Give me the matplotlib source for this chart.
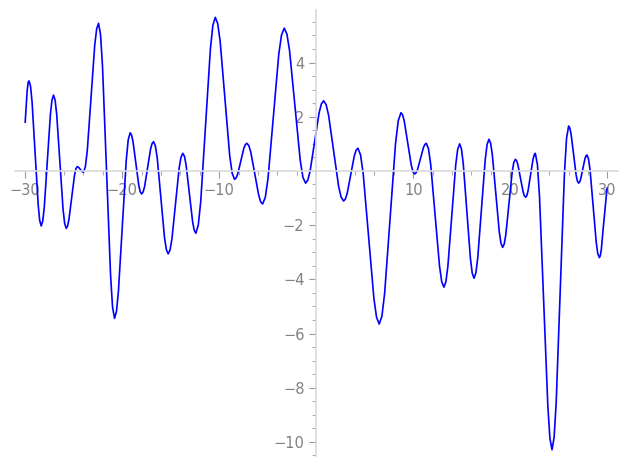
import numpy as np
import matplotlib
matplotlib.use("Agg")
import matplotlib.pyplot as plt
from matplotlib.ticker import MultipleLocator

# points, one row per rise/fall
xs = [-30.0, -29.8, -29.7, -29.65,
      -29.6, -29.444, -29.29, -28.975, -28.66, -28.506,
      -28.35, -28.191, -28.03, -27.715, -27.40, -27.239,
      -27.08, -26.916, -26.75, -26.425, -26.10, -25.934,
      -25.77, -25.629, -25.49, -25.205, -24.92, -24.781,
      -24.64, -24.48, -24.315, -24.15,
      -23.99, -23.796, -23.60, -23.215, -22.83, -22.634,
      -22.44, -22.234, -22.03, -21.615, -21.20, -20.996,
      -20.79, -20.589, -20.39, -19.985, -19.58, -19.381,
      -19.18, -19.0325, -18.885, -18.59, -18.295, -18.1475,
      -18.0, -17.846, -17.69, -17.385, -17.08, -16.924,
      -16.77, -16.581, -16.39, -16.015, -15.64, -15.449,
      -15.26, -15.071, -14.88, -14.505, -14.13, -13.939,
      -13.75, -13.5825, -13.415, -13.08, -12.745, -12.5775,
      -12.41, -12.16, -11.91, -11.41, -10.91, -10.66,
      -10.41, -10.161, -9.91, -9.415, -8.92, -8.669,
      -8.42, -8.261, -8.10, -7.785, -7.47, -7.309,
      -7.15, -6.9475, -6.745, -6.34, -5.935, -5.7325,
      -5.53, -5.251, -4.97, -4.415, -3.86, -3.579,
      -3.30, -3.025, -2.75, -2.20, -1.65, -1.375,
      -1.10, -0.8675, -0.635, -0.17, 0.295, 0.5275,
      0.76, 1.0175, 1.275, 1.79, 2.305, 2.5625,
      2.82, 3.004, 3.19, 3.555, 3.92, 4.106,
      4.29, 4.565, 4.84, 5.39, 5.94, 6.215,
      6.49, 6.77, 7.05, 7.61, 8.17, 8.45,
      8.73, 8.906, 9.08, 9.435, 9.79, 9.964,
      10.14, 10.29, 10.44, 10.74, 11.04, 11.19,
      11.34, 11.5675, 11.795, 12.25, 12.705, 12.9325,
      13.16, 13.3625, 13.565, 13.97, 14.375, 14.5775,
      14.78, 14.965, 15.15, 15.52, 15.89, 16.075,
      16.26, 16.4525, 16.645, 17.03, 17.415, 17.6075,
      17.80, 17.976, 18.15, 18.505, 18.86, 19.034,
      19.21, 19.374, 19.54, 19.865, 20.19, 20.356,
      20.52, 20.6525, 20.785, 21.05, 21.315, 21.4475,
      21.58, 21.705, 21.83, 22.08, 22.33, 22.455,
      22.58, 22.795, 23.01, 23.44, 23.87, 24.085,
      24.30, 24.514, 24.73, 25.155, 25.58, 25.796,
      26.01, 26.139, 26.27, 26.525, 26.78, 26.911,
      27.04, 27.1475, 27.255, 27.47, 27.685, 27.7925,
      27.90, 28.06, 28.22, 28.54, 28.86, 29.02,
      29.18, 29.28, 29.38, 29.58, 29.78, 29.97]
ys = [1.8, 2.95, 3.25, 3.31,
      3.32, 3.117, 2.54, 0.645, -1.25, -1.827,
      -2.03, -1.846, -1.33, 0.385, 2.09, 2.616,
      2.80, 2.613, 2.08, 0.34, -1.40, -1.933,
      -2.12, -2.033, -1.79, -0.98, -0.17, 0.073,
      0.16, 0.13, 0.055, -0.02,
      -0.05, 0.159, 0.75, 2.70, 4.65, 5.241,
      5.45, 5.036, 3.86, 0.005, -3.85, -5.026,
      -5.44, -5.18, -4.44, -2.015, 0.41, 1.15,
      1.41, 1.324, 1.08, 0.28, -0.52, -0.764,
      -0.85, -0.777, -0.57, 0.115, 0.80, 1.007,
      1.08, 0.923, 0.48, -0.99, -2.46, -2.903,
      -3.06, -2.919, -2.52, -1.205, 0.11, 0.509,
      0.65, 0.538, 0.22, -0.825, -1.87, -2.188,
      -2.30, -1.997, -1.14, 1.685, 4.51, 5.367,
      5.67, 5.443, 4.80, 2.68, 0.56, -0.083,
      -0.31, -0.259, -0.12, 0.355, 0.83, 0.969,
      1.02, 0.935, 0.69, -0.10, -0.89, -1.135,
      -1.22, -0.973, -0.27, 2.025, 4.32, 5.023,
      5.27, 5.053, 4.435, 2.41, 0.385, -0.233,
      -0.45, -0.334, -0.005, 1.07, 2.15, 2.474,
      2.59, 2.449, 2.05, 0.74, -0.57, -0.969,
      -1.11, -1.036, -0.825, -0.135, 0.555, 0.766,
      0.84, 0.593, -0.11, -2.405, -4.70, -5.403,
      -5.65, -5.354, -4.51, -1.75, 1.01, 1.854,
      2.15, 2.064, 1.82, 1.02, 0.22, -0.024,
      -0.11, -0.067, 0.055, 0.455, 0.855, 0.977,
      1.02, 0.818, 0.245, -1.635, -3.515, -4.088,
      -4.29, -4.089, -3.52, -1.645, 0.23, 0.799,
      1.00, 0.812, 0.275, -1.48, -3.235, -3.772,
      -3.96, -3.765, -3.21, -1.395, 0.42, 0.975,
      1.17, 1.018, 0.59, -0.825, -2.24, -2.668,
      -2.82, -2.6965, -2.345, -1.195, -0.045, 0.3065,
      0.43, 0.377, 0.225, -0.27, -0.765, -0.917,
      -0.97, -0.908, -0.73, -0.16, 0.41, 0.588,
      0.65, 0.234, -0.95, -4.82, -8.69, -9.874,
      -10.29, -9.836, -8.545, -4.315, -0.085, 1.206,
      1.66, 1.58, 1.35, 0.605, -0.14, -0.37,
      -0.45, -0.41, -0.30, 0.07, 0.44, 0.55,
      0.59, 0.446, 0.035, -1.305, -2.645, -3.056,
      -3.20, -3.12, -2.9, -2.1, -1.35, -0.64]

xticks_major = [-30, -20, -10, 10, 20, 30]
yticks_major = [-10, -8, -6, -4, -2, 2, 4]

fig = plt.figure(figsize=(6.27, 4.69), dpi=100)
ax = fig.add_axes([15 / 627, 13 / 469, 603 / 627, 446 / 469])

ax.plot(xs, ys, color='blue', lw=1.2)

ax.set_xlim(-31.05, 31.1)
ax.set_ylim(-10.52, 5.94)

for side in ['top', 'right']:
    ax.spines[side].set_visible(False)
ax.spines['left'].set_position('zero')
ax.spines['bottom'].set_position('zero')
for side in ['left', 'bottom']:
    ax.spines[side].set_color('#d9d9d9')
    ax.spines[side].set_linewidth(1.2)

ax.set_xticks(xticks_major)
ax.set_yticks(yticks_major)
ax.xaxis.set_minor_locator(MultipleLocator(2))
ax.yaxis.set_minor_locator(MultipleLocator(0.5))
ax.tick_params(which='major', length=5, width=0.8, color='#999999',
               labelcolor='#808080', labelsize=10.5, direction='out')
ax.tick_params(which='minor', length=3, width=0.6, color='#999999', direction='out')

fig.savefig('out.png', dpi=100)
